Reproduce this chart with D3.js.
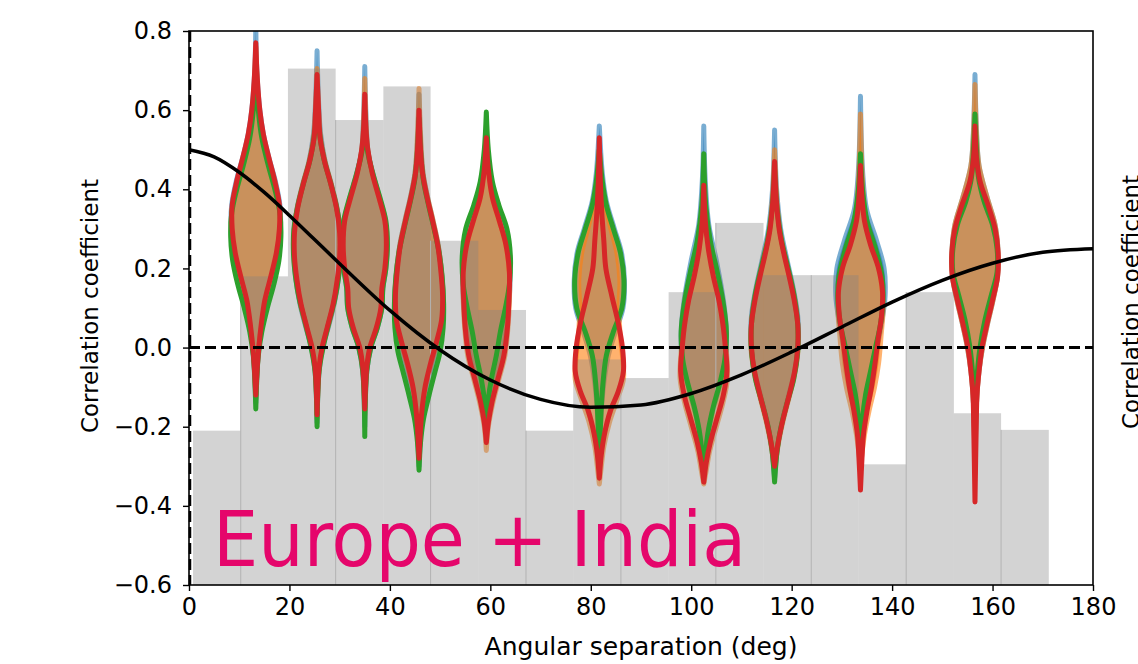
<!DOCTYPE html>
<html>
<head>
<meta charset="utf-8">
<script src="https://cdn.jsdelivr.net/npm/d3@7"></script>
<style>
    body { margin: 0; background: #fff; }
    svg text { font-family: "DejaVu Sans", sans-serif; }
</style>
</head>
<body>
<div id="chartContainer"></div>
<script>
// Axis ticks
const xTicks = [0, 20, 40, 60, 80, 100, 120, 140, 160, 180];
const yTicks = [-0.6, -0.4, -0.2, 0.0, 0.2, 0.4, 0.6, 0.8];

// Background histogram (bin edges in deg, bar tops in correlation units)
const binEdges = [0.8, 10.3, 19.7, 29.2, 38.7, 48.1, 57.6, 67.1, 76.5, 86.0,
                  95.5, 104.9, 114.4, 123.9, 133.3, 142.8, 152.3, 161.7, 171.2];
const binHeights = [-0.21, 0.18, 0.705, 0.575, 0.66, 0.27, 0.095, -0.21, -0.03,
                    -0.077, 0.14, 0.315, 0.183, 0.183, -0.295, 0.14, -0.166, -0.208];

// Expected curve
const curveAngles = [0, 5, 10, 15, 20, 25, 30, 40, 50, 60, 70, 80, 90, 100, 110, 120, 130, 140, 150, 160, 170, 180];
const curveValues = [0.5, 0.482, 0.443, 0.392, 0.334, 0.273, 0.212, 0.094, -0.006, -0.082, -0.131, -0.151,
                     -0.145, -0.116, -0.069, -0.011, 0.052, 0.115, 0.170, 0.213, 0.241, 0.25];

// Violin positions (deg)
const violinAngles = [13.3, 25.5, 35.0, 45.8, 59.2, 81.7, 102.5, 116.6, 133.7, 156.5];

// Violin profiles: [correlation, half width in deg]
const blueViolins = [
    [[0.82,0],[0.7,0.2],[0.6,0.8],[0.54,1.5],[0.48,2.6],[0.42,3.9],[0.36,4.8],[0.3,4.9],[0.24,4.4],[0.18,3.3],[0.12,2.0],[0.06,1.2],[0,0.6],[-0.06,0.25],[-0.14,0]],
    [[0.75,0],[0.62,0.3],[0.54,0.7],[0.47,1.6],[0.41,2.9],[0.35,4.0],[0.29,4.6],[0.23,4.6],[0.17,4.2],[0.11,3.4],[0.05,2.2],[0,1.1],[-0.06,0.4],[-0.19,0]],
    [[0.71,0],[0.6,0.2],[0.5,0.6],[0.44,1.6],[0.38,2.9],[0.32,4.1],[0.26,4.5],[0.2,4.2],[0.15,3.6],[0.1,3.4],[0.05,2.5],[0,1.2],[-0.06,0.4],[-0.2,0]],
    [[0.64,0],[0.52,0.3],[0.44,0.8],[0.38,1.7],[0.32,2.8],[0.26,3.8],[0.2,4.4],[0.13,4.8],[0.07,4.7],[0.01,4.0],[-0.05,2.8],[-0.11,1.6],[-0.18,0.6],[-0.3,0]],
    [[0.55,0],[0.46,0.4],[0.39,1.2],[0.33,2.6],[0.27,4.0],[0.2,4.7],[0.13,4.6],[0.06,4.1],[-0.01,3.3],[-0.07,2.1],[-0.13,1.0],[-0.22,0]],
    [[0.56,0],[0.44,0.6],[0.37,1.4],[0.3,3.0],[0.24,4.4],[0.17,5.0],[0.1,4.7],[0.04,3.2],[-0.02,1.8],[-0.08,1.0],[-0.16,0.4],[-0.3,0]],
    [[0.56,0],[0.42,0.3],[0.31,1.0],[0.22,2.5],[0.12,3.9],[0.04,4.5],[-0.03,4.3],[-0.1,3.1],[-0.17,1.6],[-0.24,0.6],[-0.32,0]],
    [[0.55,0],[0.4,0.4],[0.3,1.2],[0.22,2.5],[0.15,3.7],[0.08,4.6],[0.01,4.7],[-0.06,4.0],[-0.12,2.8],[-0.18,1.6],[-0.25,0.6],[-0.33,0]],
    [[0.635,0],[0.45,0.4],[0.35,1.2],[0.27,3.2],[0.2,4.7],[0.13,4.9],[0.07,4.3],[0,3.3],[-0.06,2.2],[-0.12,1.1],[-0.2,0.4],[-0.28,0]],
    [[0.69,0],[0.55,0.3],[0.46,0.8],[0.38,2.4],[0.31,4.0],[0.24,4.6],[0.18,4.5],[0.12,3.6],[0.06,2.5],[0,1.5],[-0.06,0.8],[-0.14,0.3],[-0.3,0]]
];
const orangeViolins = [
    [[0.76,0],[0.66,0.3],[0.58,0.8],[0.52,1.6],[0.46,2.8],[0.4,4.0],[0.34,4.8],[0.28,4.8],[0.22,4.2],[0.16,3.1],[0.1,1.9],[0.04,1.0],[-0.02,0.4],[-0.13,0]],
    [[0.705,0],[0.6,0.3],[0.53,0.7],[0.47,1.6],[0.41,2.9],[0.35,4.0],[0.29,4.6],[0.23,4.6],[0.17,4.1],[0.11,3.3],[0.05,2.1],[0,1.0],[-0.05,0.4],[-0.18,0]],
    [[0.68,0],[0.58,0.2],[0.5,0.6],[0.44,1.5],[0.38,2.8],[0.32,4.0],[0.26,4.4],[0.2,4.0],[0.15,3.5],[0.1,3.3],[0.05,2.4],[0,1.1],[-0.05,0.4],[-0.17,0]],
    [[0.655,0],[0.54,0.3],[0.44,0.8],[0.38,1.7],[0.32,2.8],[0.26,3.8],[0.2,4.4],[0.13,4.8],[0.07,4.6],[0.02,3.8],[-0.04,2.5],[-0.1,1.3],[-0.17,0.5],[-0.29,0]],
    [[0.55,0],[0.46,0.4],[0.38,1.2],[0.32,2.6],[0.26,3.9],[0.19,4.6],[0.12,4.6],[0.05,4.3],[-0.02,3.7],[-0.08,2.5],[-0.14,1.3],[-0.2,0.4],[-0.26,0]],
    [[0.5,0],[0.42,0.5],[0.36,1.2],[0.3,2.3],[0.24,3.5],[0.17,4.1],[0.1,3.9],[0.04,4.1],[-0.02,4.6],[-0.08,4.8],[-0.13,3.6],[-0.19,2.0],[-0.25,0.9],[-0.3,0.4],[-0.345,0]],
    [[0.44,0],[0.32,0.4],[0.22,1.5],[0.14,2.8],[0.06,3.8],[-0.01,4.5],[-0.08,4.7],[-0.14,3.8],[-0.2,2.5],[-0.26,1.2],[-0.31,0.5],[-0.345,0]],
    [[0.5,0],[0.38,0.4],[0.3,1.0],[0.24,1.9],[0.18,3.0],[0.12,4.0],[0.06,4.6],[0,4.7],[-0.06,4.1],[-0.12,3.0],[-0.18,1.8],[-0.24,0.8],[-0.31,0]],
    [[0.59,0],[0.42,0.4],[0.32,1.1],[0.25,2.6],[0.18,4.0],[0.1,4.5],[0.03,4.1],[-0.04,3.6],[-0.1,2.8],[-0.16,1.7],[-0.22,0.8],[-0.3,0]],
    [[0.665,0],[0.54,0.3],[0.46,0.8],[0.38,2.4],[0.31,4.0],[0.24,4.6],[0.18,4.5],[0.12,3.6],[0.06,2.5],[0,1.5],[-0.06,0.8],[-0.14,0.3],[-0.32,0]]
];
const greenViolins = [
    [[0.7,0],[0.6,0.5],[0.53,1.2],[0.46,2.5],[0.4,3.8],[0.34,4.8],[0.28,5.0],[0.22,4.6],[0.16,3.6],[0.1,2.3],[0.04,1.2],[-0.02,0.5],[-0.08,0.2],[-0.155,0]],
    [[0.64,0],[0.55,0.4],[0.48,1.3],[0.42,2.6],[0.36,3.8],[0.3,4.6],[0.24,4.7],[0.18,4.3],[0.12,3.5],[0.06,2.3],[0,1.2],[-0.06,0.4],[-0.2,0]],
    [[0.6,0],[0.5,0.5],[0.44,1.6],[0.38,3.0],[0.32,4.2],[0.26,4.5],[0.2,4.2],[0.15,3.6],[0.1,3.4],[0.05,2.5],[0,1.2],[-0.06,0.4],[-0.225,0]],
    [[0.58,0],[0.48,0.4],[0.42,0.9],[0.36,1.9],[0.3,3.0],[0.24,4.0],[0.18,4.6],[0.11,4.9],[0.05,4.8],[-0.01,4.2],[-0.06,3.2],[-0.12,2.0],[-0.18,0.9],[-0.24,0.3],[-0.31,0]],
    [[0.595,0],[0.5,0.4],[0.42,1.2],[0.36,2.5],[0.3,4.1],[0.23,4.8],[0.16,4.6],[0.1,3.8],[0.04,2.8],[-0.02,2.0],[-0.08,1.0],[-0.13,0.4],[-0.2,0]],
    [[0.5,0],[0.42,0.6],[0.36,1.4],[0.3,2.8],[0.24,4.2],[0.17,4.9],[0.1,4.5],[0.04,2.8],[-0.02,1.4],[-0.08,0.8],[-0.15,0.4],[-0.28,0]],
    [[0.49,0],[0.36,0.4],[0.27,1.3],[0.19,2.7],[0.11,3.9],[0.04,4.5],[-0.03,4.2],[-0.09,3.2],[-0.15,1.9],[-0.21,0.9],[-0.26,0.4],[-0.31,0]],
    [[0.45,0],[0.35,0.5],[0.27,1.4],[0.2,2.7],[0.13,3.9],[0.06,4.6],[-0.01,4.6],[-0.08,3.8],[-0.14,2.5],[-0.2,1.3],[-0.26,0.5],[-0.34,0]],
    [[0.49,0],[0.4,0.4],[0.32,1.3],[0.25,3.0],[0.18,4.3],[0.12,4.5],[0.06,4.0],[0,3.0],[-0.06,2.0],[-0.12,1.0],[-0.18,0.4],[-0.26,0]],
    [[0.59,0],[0.5,0.3],[0.43,0.7],[0.37,1.8],[0.31,3.5],[0.25,4.4],[0.19,4.4],[0.13,3.2],[0.07,2.0],[0,1.0],[-0.06,0.5],[-0.12,0.2],[-0.2,0]]
];
const redViolins = [
    [[0.77,0],[0.68,0.3],[0.6,0.8],[0.54,1.5],[0.48,2.6],[0.42,3.8],[0.36,4.7],[0.3,4.7],[0.24,4.1],[0.18,3.0],[0.12,1.8],[0.06,1.1],[0,0.6],[-0.06,0.25],[-0.12,0]],
    [[0.69,0],[0.6,0.3],[0.53,0.6],[0.47,1.5],[0.41,2.8],[0.35,3.9],[0.29,4.5],[0.23,4.5],[0.17,4.0],[0.11,3.2],[0.05,2.0],[0,1.0],[-0.05,0.4],[-0.17,0]],
    [[0.64,0],[0.56,0.2],[0.5,0.6],[0.44,1.5],[0.38,2.8],[0.32,4.0],[0.26,4.3],[0.2,4.0],[0.15,3.4],[0.1,3.2],[0.05,2.3],[0,1.0],[-0.05,0.4],[-0.155,0]],
    [[0.6,0],[0.5,0.3],[0.44,0.7],[0.38,1.6],[0.32,2.7],[0.26,3.7],[0.2,4.3],[0.13,4.7],[0.07,4.5],[0.02,3.6],[-0.04,2.3],[-0.1,1.2],[-0.17,0.5],[-0.28,0]],
    [[0.53,0],[0.45,0.4],[0.38,1.2],[0.32,2.6],[0.26,3.9],[0.19,4.6],[0.12,4.5],[0.05,4.2],[-0.02,3.5],[-0.08,2.3],[-0.14,1.1],[-0.19,0.4],[-0.24,0]],
    [[0.53,0],[0.42,0.2],[0.34,0.5],[0.27,0.9],[0.2,1.3],[0.13,2.5],[0.06,3.8],[0,4.6],[-0.06,4.8],[-0.11,3.8],[-0.16,2.2],[-0.22,1.0],[-0.27,0.4],[-0.33,0]],
    [[0.41,0],[0.32,0.3],[0.25,0.9],[0.18,1.9],[0.12,3.0],[0.06,3.8],[0,4.3],[-0.06,4.6],[-0.12,3.9],[-0.18,2.6],[-0.24,1.3],[-0.29,0.5],[-0.34,0]],
    [[0.47,0],[0.38,0.3],[0.3,0.9],[0.24,1.8],[0.18,2.9],[0.12,3.9],[0.06,4.6],[0,4.6],[-0.06,4.0],[-0.12,2.9],[-0.18,1.7],[-0.24,0.7],[-0.3,0]],
    [[0.46,0],[0.38,0.3],[0.32,0.8],[0.26,2.0],[0.2,3.6],[0.14,4.4],[0.08,4.2],[0.02,3.5],[-0.04,2.9],[-0.1,2.2],[-0.16,1.3],[-0.22,0.6],[-0.28,0.3],[-0.36,0]],
    [[0.56,0],[0.48,0.3],[0.42,1.0],[0.36,2.6],[0.3,4.0],[0.24,4.6],[0.18,4.5],[0.12,3.5],[0.06,2.4],[0,1.4],[-0.06,0.8],[-0.12,0.4],[-0.2,0.25],[-0.39,0]]
];

function init() {
    const W = 1138, H = 664;
    const margin = { top: 31, right: 45, bottom: 79, left: 189 };
    const w = W - margin.left - margin.right;   // 904
    const h = H - margin.top - margin.bottom;   // 554

    const svg = d3.select("#chartContainer").append("svg")
        .attr("width", W)
        .attr("height", H);

    const g = svg.append("g")
        .attr("transform", `translate(${margin.left}, ${margin.top})`);

    const x = d3.scaleLinear().domain([0, 180]).range([0, w]);
    const y = d3.scaleLinear().domain([-0.6, 0.8]).range([h, 0]);

    // Clip everything to the axes box
    svg.append("defs").append("clipPath").attr("id", "plotClip")
        .append("rect").attr("width", w).attr("height", h);
    const plot = g.append("g").attr("clip-path", "url(#plotClip)");

    // Violin outline generator
    function violinArea(center) {
        return d3.area()
            .y(d => y(d[0]))
            .x0(d => x(center - d[1]))
            .x1(d => x(center + d[1]))
            .curve(d3.curveCatmullRom);
    }

    // Filled violins (blue and orange) go under the histogram
    const filled = [
        { data: blueViolins, color: "#1f77b4" },
        { data: orangeViolins, color: "#ff7f0e" }
    ];
    filled.forEach(s => {
        plot.append("g").selectAll("path")
            .data(s.data)
            .enter().append("path")
            .attr("d", (d, i) => violinArea(violinAngles[i])(d))
            .style("fill", s.color)
            .style("fill-opacity", 0.6)
            .style("stroke", s.color)
            .style("stroke-opacity", 0.6)
            .style("stroke-width", 5)
            .style("stroke-linejoin", "round");
    });

    // Histogram bars, translucent gray on top of the filled violins
    const bars = binHeights.map((v, i) => ({ x0: binEdges[i], x1: binEdges[i + 1], v: v, i: i }));
    plot.append("g").selectAll("rect")
        .data(bars)
        .enter().append("rect")
        .attr("x", d => x(d.x0))
        .attr("width", d => x(d.x1) - x(d.x0))
        .attr("y", d => y(d.v))
        .attr("height", d => y(-0.6) - y(d.v))
        .style("fill", "#818181")
        .style("fill-opacity", 0.35);

    // faint left edges on every other bar
    plot.append("g").selectAll("line")
        .data(bars.filter(d => d.i % 2 === 1))
        .enter().append("line")
        .attr("x1", d => x(d.x0)).attr("x2", d => x(d.x0))
        .attr("y1", d => y(d.v)).attr("y2", h)
        .style("stroke", "#b3b3b3")
        .style("stroke-width", 1);

    // Outline-only violins (green, then red on top)
    const outlined = [
        { data: greenViolins, color: "#2ca02c" },
        { data: redViolins, color: "#d62728" }
    ];
    outlined.forEach(s => {
        plot.append("g").selectAll("path")
            .data(s.data)
            .enter().append("path")
            .attr("d", (d, i) => violinArea(violinAngles[i])(d))
            .style("fill", "none")
            .style("stroke", s.color)
            .style("stroke-width", 5)
            .style("stroke-linejoin", "round");
    });

    // Expected correlation curve
    const curvePts = curveAngles.map((a, i) => [a, curveValues[i]]);
    plot.append("path")
        .datum(curvePts)
        .attr("d", d3.line().x(d => x(d[0])).y(d => y(d[1])).curve(d3.curveMonotoneX))
        .style("fill", "none")
        .style("stroke", "black")
        .style("stroke-width", 3.5);

    // Zero lines (dashed)
    g.append("line")
        .attr("x1", x(0)).attr("x2", x(180))
        .attr("y1", y(0)).attr("y2", y(0))
        .style("stroke", "black")
        .style("stroke-width", 3)
        .style("stroke-dasharray", "11,5");
    g.append("line")
        .attr("x1", x(0) + 1).attr("x2", x(0) + 1)
        .attr("y1", 0).attr("y2", h)
        .style("stroke", "black")
        .style("stroke-width", 2.5)
        .style("stroke-dasharray", "11,5");

    // Region label (glyphs in the reference are a bit taller than wide)
    g.append("text")
        .attr("transform", `translate(${x(4.8)}, 535) scale(0.93, 1)`)
        .style("font-size", "77px")
        .style("fill", "#e5066b")
        .text("Europe + India");

    // Axes
    const xAxis = g.append("g")
        .attr("transform", `translate(0, ${h})`)
        .call(d3.axisBottom(x).tickValues(xTicks).tickSize(6).tickPadding(7).tickFormat(d3.format("d")));
    const yAxis = g.append("g")
        .call(d3.axisLeft(y).tickValues(yTicks).tickSize(6).tickPadding(11).tickFormat(d3.format(".1f")));
    [xAxis, yAxis].forEach(a => {
        a.select(".domain").remove();
        a.selectAll(".tick line").style("stroke", "black").style("stroke-width", 1.4);
        a.selectAll("text")
            .style("font-family", "DejaVu Sans")
            .style("font-size", "24px")
            .style("fill", "black");
    });

    // Frame
    g.append("rect")
        .attr("width", w).attr("height", h)
        .style("fill", "none")
        .style("stroke", "black")
        .style("stroke-width", 1.6);

    // Axis labels
    g.append("text")
        .attr("x", w / 2)
        .attr("y", h + 70)
        .style("text-anchor", "middle")
        .style("font-size", "25px")
        .text("Angular separation (deg)");

    g.append("text")
        .attr("transform", "rotate(-90)")
        .attr("x", -(h / 2) + 2)
        .attr("y", -margin.left + 98)
        .style("text-anchor", "middle")
        .style("font-size", "23px")
        .text("Correlation coefficient");

    // Label of the neighbouring panel, cut by the figure edge
    svg.append("text")
        .attr("transform", `translate(${W + 1}, 302) rotate(-90)`)
        .style("text-anchor", "middle")
        .style("font-size", "23px")
        .text("Correlation coefficient");
}
window.onload = init;
</script>
</body>
</html>
